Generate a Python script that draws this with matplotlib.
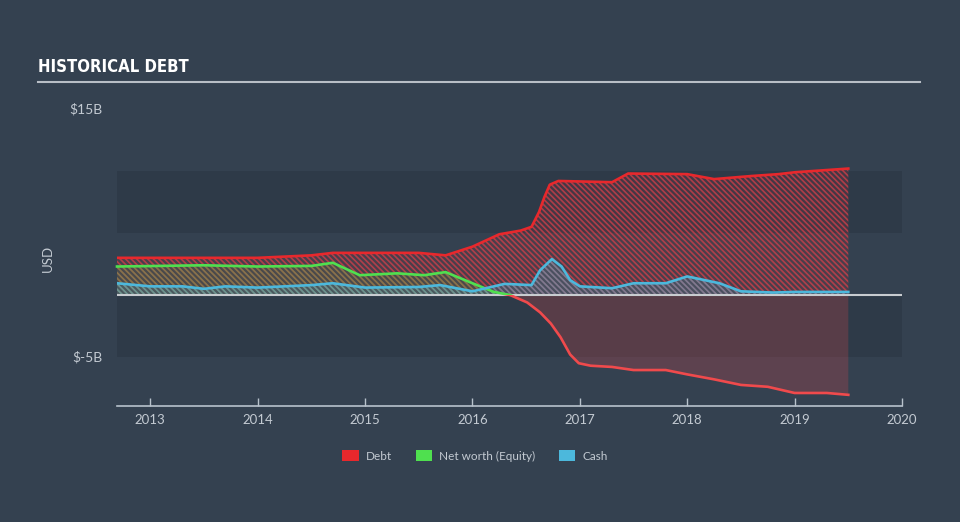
import matplotlib
matplotlib.use("Agg")
import matplotlib.pyplot as plt
from matplotlib.patches import Patch, Rectangle
import numpy as np

# values in billions USD, x in decimal years
debt_x = [2012.69, 2013.5, 2014.0, 2014.5, 2014.7, 2015.2, 2015.5, 2015.75, 2016.0,
          2016.25, 2016.45, 2016.55, 2016.62, 2016.67, 2016.72, 2016.8, 2017.3, 2017.45,
          2018.0, 2018.25, 2018.6, 2018.85, 2019.0, 2019.5]
debt = [3.0, 3.0, 3.0, 3.2, 3.4, 3.4, 3.4, 3.2, 3.9, 4.9, 5.2, 5.5, 6.7, 7.9, 8.9, 9.2,
        9.1, 9.8, 9.75, 9.35, 9.6, 9.75, 9.9, 10.2]

equity_x = [2012.69, 2013.5, 2014.0, 2014.5, 2014.7, 2014.95, 2015.3, 2015.55, 2015.75,
            2016.0, 2016.2, 2016.35, 2016.51, 2016.63, 2016.73, 2016.82, 2016.91,
            2016.99, 2017.1, 2017.3, 2017.5, 2017.8, 2018.0, 2018.25, 2018.5,
            2018.75, 2019.0, 2019.3, 2019.5]
equity = [2.3, 2.4, 2.3, 2.35, 2.6, 1.6, 1.75, 1.6, 1.85, 0.95, 0.25, 0.0, -0.6, -1.4,
          -2.3, -3.4, -4.8, -5.5, -5.7, -5.8, -6.05, -6.05, -6.4, -6.8, -7.25, -7.4,
          -7.9, -7.9, -8.05]

cash_x = [2012.69, 2013.0, 2013.3, 2013.5, 2013.7, 2014.0, 2014.5, 2014.7, 2015.0,
          2015.5, 2015.7, 2016.0, 2016.3, 2016.55, 2016.63, 2016.74, 2016.83, 2016.91,
          2017.0, 2017.3, 2017.5, 2017.8, 2018.0, 2018.3, 2018.5, 2018.8, 2019.0, 2019.5]
cash = [0.95, 0.7, 0.7, 0.5, 0.7, 0.6, 0.8, 0.95, 0.6, 0.65, 0.8, 0.3, 0.9, 0.8, 2.0,
        2.9, 2.3, 1.2, 0.7, 0.55, 0.95, 0.95, 1.5, 0.95, 0.3, 0.2, 0.25, 0.25]

year_ticks = [2013, 2014, 2015, 2016, 2017, 2018, 2019, 2020]
y_labels = {15: "$15B", -5: "$-5B"}
legend_labels = ["Debt", "Net worth (Equity)", "Cash"]

BG = "#344150"
BAND = "#2e3a48"
RED = "#e8282c"
RED_NEG = "#f04a4c"
GREEN = "#4fe04f"
BLUE = "#4cb8dc"
TEXT = "#c3cad2"

plt.rcParams["hatch.linewidth"] = 1.2

fig = plt.figure(figsize=(9.6, 5.22), dpi=100, facecolor=BG)
ax = fig.add_axes([117 / 960, 1 - 406 / 522, 785 / 960, (406 - 100) / 522])
ax.set_facecolor(BG)
ax.set_xlim(2012.69, 2020.0)
ax.set_ylim(-8.95, 15.73)

ax.axhspan(5, 10, color=BAND, lw=0, zorder=0)
ax.axhspan(-5, 0, color=BAND, lw=0, zorder=0)

dx = np.array(debt_x)
dv = np.array(debt)
ex = np.array(equity_x)
ev = np.array(equity)
cx = np.array(cash_x)
cv = np.array(cash)

# debt area
ax.fill_between(dx, 0, dv, facecolor=(0.91, 0.16, 0.17, 0.12), edgecolor=(0.85, 0.25, 0.29, 0.72),
                hatch="\\\\\\\\\\\\", lw=0, zorder=1)
# equity area
ax.fill_between(ex, 0, ev, where=ev >= 0, interpolate=True, facecolor=(0.31, 0.88, 0.31, 0.08),
                edgecolor=(0.31, 0.75, 0.31, 0.35), hatch="\\\\\\\\\\\\", lw=0, zorder=2)
ax.fill_between(ex, 0, ev, where=ev <= 0, interpolate=True, facecolor=RED_NEG, alpha=0.22,
                lw=0, zorder=2)
# cash area
ax.fill_between(cx, 0, cv, facecolor=(0.3, 0.72, 0.86, 0.15), edgecolor=(0.3, 0.72, 0.86, 0.4),
                hatch="\\\\\\\\\\\\", lw=0, zorder=3)

ax.axhline(0, color="#c8ccd0", lw=1.5, zorder=4)

ax.plot(dx, dv, color=RED, lw=1.9, zorder=6)
pos, = ax.plot(ex, ev, color=GREEN, lw=1.9, zorder=5)
neg, = ax.plot(ex, ev, color=RED_NEG, lw=1.9, zorder=5)
pos.set_clip_path(Rectangle((2012, 0), 10, 30, transform=ax.transData))
neg.set_clip_path(Rectangle((2012, -30), 10, 30, transform=ax.transData))
ax.plot(cx, cv, color=BLUE, lw=1.9, zorder=6)

for s in ["top", "right", "left"]:
    ax.spines[s].set_visible(False)
ax.spines["bottom"].set_color("#b8c2cc")
ax.spines["bottom"].set_linewidth(1.2)
ax.set_yticks([])
ax.set_xticks(year_ticks)
ax.set_xticklabels([str(y) for y in year_ticks])
ax.tick_params(axis="x", colors="#b8c2cc", labelcolor=TEXT, labelsize=9.5, length=6, width=1,
               direction="in", pad=6)
for lbl in ax.get_xticklabels():
    lbl.set_fontfamily("Lato")

for val, txt in y_labels.items():
    ax.text(-0.019, val, txt, transform=ax.get_yaxis_transform(), ha="right", va="center",
            color=TEXT, fontsize=10, family="Lato")
fig.text(48 / 960, 1 - 258 / 522, "USD", rotation=90, ha="center", va="center",
         color=TEXT, fontsize=9.5, family="Lato")

fig.text(38 / 960, 1 - 67 / 522, "HISTORICAL DEBT", ha="left", va="center", color="white",
         fontsize=12, fontweight="bold", fontstretch="condensed",
         family=["DejaVu Sans"])
fig.add_artist(plt.Line2D([38 / 960, 920 / 960], [1 - 82 / 522, 1 - 82 / 522],
                          color="#b8bec6", lw=1.5))

handles = [Patch(facecolor=c, edgecolor="none") for c in [RED, GREEN, BLUE]]
leg = fig.legend(handles, legend_labels, loc="center", bbox_to_anchor=(475 / 960, 1 - 456 / 522),
                 ncol=3, frameon=False, handlelength=1.4, handleheight=1.0,
                 columnspacing=2.0, handletextpad=0.6, prop={"family": "Lato", "size": 8.5})
for t in leg.get_texts():
    t.set_color(TEXT)

fig.savefig("out.png", dpi=100, facecolor=BG)
